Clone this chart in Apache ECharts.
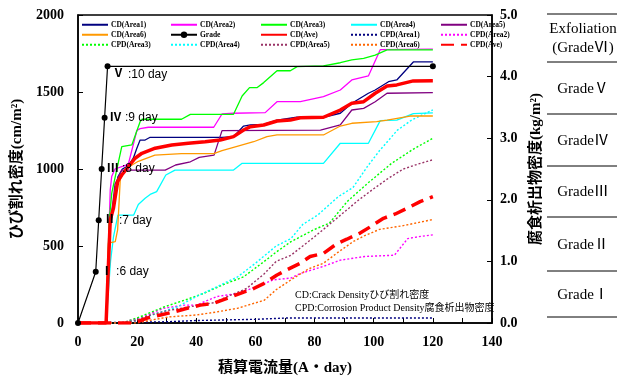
<!DOCTYPE html>
<html><head><meta charset="utf-8">
<script src="https://cdn.jsdelivr.net/npm/echarts@6/dist/echarts.min.js"></script>
<style>html,body{margin:0;padding:0;background:#fff}#c{width:619px;height:383px}</style>
</head><body><div id="c"></div>
<script>
// ---- data (x: 積算電流量 A・day) ----
const cdArea1 = [[0,0],[9.5,0],[11,650],[12,750],[13.5,950],[15,1000],[17,1020],[18.7,1070],[19.9,1135],[21,1188],[22.7,1188],[24.4,1206],[48.7,1206],[52.6,1210],[56,1279],[58.3,1286],[62.8,1290],[67.3,1318],[74,1336],[83,1336],[88.7,1362],[92.6,1427],[98.2,1492],[100.5,1513],[105,1567],[107.8,1578],[113.4,1695],[120,1695]];
const cdArea2 = [[0,0],[9.5,0],[10.9,864],[11.4,951],[12.5,1000],[17,1030],[19.9,1250],[21,1262],[23.8,1271],[45.9,1271],[48.7,1357],[52.6,1362],[63.3,1366],[67.3,1437],[75.2,1437],[83,1470],[88.7,1513],[92.6,1578],[98.2,1604],[102.2,1775],[120,1778]];
const cdArea3 = [[0,0],[9.5,0],[10.5,650],[11.4,842],[12.6,950],[14.8,1145],[18.2,1156],[21,1307],[21.6,1323],[35,1323],[38,1355],[52.6,1355],[55.5,1474],[58,1528],[60.5,1528],[62.8,1561],[67.3,1638],[71.8,1638],[74.1,1665],[83,1669],[88.7,1690],[92.6,1708],[96.6,1719],[100.5,1740],[104.5,1773],[120,1773]];
const cdArea4 = [[0,0],[9.5,0],[11,400],[12,560],[13.5,700],[18.8,700],[20.4,770],[22.7,810],[24.4,835],[26.6,853],[29.7,961],[32.8,993],[52.6,993],[55.5,1037],[83,1037],[88.7,1167],[98.2,1167],[102.2,1314],[107.8,1318],[113.4,1360],[120,1365]];
const cdArea5 = [[0,0],[9.5,0],[11,650],[12.5,900],[14.8,993],[29.5,993],[33,1026],[38,1047],[41,1076],[46,1090],[48.7,1249],[82,1253],[88.7,1286],[92.6,1383],[96.6,1394],[100.5,1437],[104.5,1492],[120,1496]];
const cdArea6 = [[0,0],[9.5,0],[10.3,518],[12.6,528],[13.4,604],[14.3,935],[16,1000],[20.4,1050],[26,1090],[35,1100],[45.9,1100],[48.7,1120],[52.6,1141],[59.4,1177],[63.9,1210],[67.3,1221],[83,1221],[88.7,1279],[92.6,1297],[101,1307],[104.5,1318],[112.3,1344],[120,1344]];
const cdAve = [[0,0],[9.5,0],[10.9,669],[12,747],[13.4,918],[14.8,961],[19.3,1070],[21.6,1102],[26.1,1135],[31.7,1156],[37.3,1167],[43,1177],[48.1,1188],[52.6,1210],[56,1253],[58.3,1275],[62.8,1286],[67.3,1312],[71.8,1318],[75.2,1333],[83,1336],[88.7,1383],[92.6,1427],[96.6,1437],[100.5,1492],[104.5,1539],[107.8,1546],[113.4,1572],[120,1573]];

const cpdArea1 = [[0,0],[30,0.02],[40,0.04],[60,0.06],[70,0.08],[120,0.08]];
const cpdArea2 = [[0,0],[15,0],[18,0.05],[22,0.1],[29,0.24],[36,0.29],[40,0.29],[47,0.43],[54,0.48],[60.5,0.59],[66,0.7],[72,0.73],[75,0.8],[83,0.92],[88.7,1.02],[97,1.08],[107,1.1],[111.5,1.37],[115,1.4],[120,1.43]];
const cpdArea3 = [[0,0],[15,0],[21,0.1],[29,0.26],[36,0.37],[42.5,0.48],[49,0.62],[56,0.75],[63,1.0],[67,1.15],[72,1.32],[76,1.42],[80,1.52],[85,1.62],[91,1.97],[98,2.27],[106,2.59],[113,2.81],[120,3.0]];
const cpdArea4 = [[0,0],[15,0],[20,0.05],[27,0.16],[33.5,0.26],[40,0.43],[47,0.59],[54,0.75],[60,0.97],[67,1.25],[72,1.37],[76,1.6],[81,1.75],[88,2.05],[93,2.2],[98,2.55],[102,2.8],[108,3.13],[113,3.3],[120,3.46]];
const cpdArea5 = [[0,0],[15,0],[20,0.05],[24.5,0.13],[30,0.2],[35,0.24],[41,0.29],[46,0.33],[51.5,0.45],[57,0.56],[63,0.8],[67,1.0],[72,1.1],[76,1.25],[80,1.4],[85,1.6],[90,1.8],[95,2.0],[100,2.18],[105,2.35],[110,2.5],[115,2.58],[120,2.65]];
const cpdArea6 = [[0,0],[20,0],[25,0.05],[31,0.1],[40,0.13],[47,0.18],[54,0.24],[63,0.37],[67,0.54],[72,0.7],[78,0.88],[83,0.97],[88,1.15],[93,1.32],[97,1.42],[102,1.52],[110,1.58],[120,1.68]];
const cpdAve = [[0,0],[18,0],[20,0.02],[23.4,0.08],[27.9,0.13],[32.4,0.18],[36.9,0.24],[41.4,0.29],[45.9,0.32],[50.4,0.4],[54.9,0.48],[59.4,0.56],[62.8,0.64],[67.3,0.78],[71.8,0.89],[75.2,0.97],[78.5,1.08],[83,1.13],[87.6,1.29],[90.9,1.36],[95.4,1.46],[98.8,1.56],[103.3,1.7],[107.3,1.77],[111.2,1.86],[115.7,1.97],[120,2.05]];

const gradeDays = [0, 6, 7, 8, 9, 10, 120];
const gradeLevels = [0, 333, 667, 1000, 1333, 1667, 1667];
const gradeNumerals = ['', 'Ⅰ', 'Ⅱ', 'Ⅲ', 'Ⅳ', 'Ⅴ', ''];

const xTicks = [0, 20, 40, 60, 80, 100, 120, 140];
const leftTicks = [0, 500, 1000, 1500, 2000];
const rightTicks = [0.0, 1.0, 2.0, 3.0, 4.0, 5.0];
const gradeTable = ['Exfoliation\n(GradeⅥ)', 'GradeⅤ', 'GradeⅣ', 'GradeⅢ', 'GradeⅡ', 'GradeⅠ'];
const noteLines = ['CD:Crack Densityひび割れ密度', 'CPD:Corrosion Product Density腐食析出物密度'];

// ---- chart ----
const chart = echarts.init(document.getElementById('c'), null, {renderer: 'canvas'});
const serif = '"Liberation Serif", "Noto Sans CJK JP"';

function cd(name, data, color, width, z) {
  return {type: 'line', name, data, yAxisIndex: 0, symbol: 'none', silent: true, z: z || 3,
    lineStyle: {color, width: width || 1.3}, itemStyle: {color}};
}
function cpd(name, data, color, type, width, z) {
  return {type: 'line', name, data, yAxisIndex: 1, symbol: 'none', silent: true, z: z || 2,
    lineStyle: {color, width: width || 1.4, type: type || [2, 2]}, itemStyle: {color}};
}

const gradeData = gradeDays.map((d, i) => {
  const item = {value: [d, gradeLevels[i]]};
  if (i === 5) item.label = {offset: [0, 8]};
  return item;
});

const series = [
  cpd('CPD(Area1)', cpdArea1, '#000080'),
  cpd('CPD(Area2)', cpdArea2, '#FF00FF'),
  cpd('CPD(Area3)', cpdArea3, '#00FF00'),
  cpd('CPD(Area4)', cpdArea4, '#00FFFF'),
  cpd('CPD(Area5)', cpdArea5, '#993366'),
  cpd('CPD(Area6)', cpdArea6, '#FF6600'),
  cpd('CPD(Ave)', cpdAve, '#FF0000', [13, 7], 3.5, 4),
  cd('CD(Area1)', cdArea1, '#000080'),
  cd('CD(Area2)', cdArea2, '#FF00FF'),
  cd('CD(Area3)', cdArea3, '#00FF00'),
  cd('CD(Area4)', cdArea4, '#00FFFF'),
  cd('CD(Area5)', cdArea5, '#800080'),
  cd('CD(Area6)', cdArea6, '#FF9900'),
  cd('CD(Ave)', cdAve, '#FF0000', 3.5, 6),
  {type: 'line', name: 'Grade', data: gradeData, yAxisIndex: 0, symbol: 'circle', symbolSize: 6, silent: true, z: 8,
    lineStyle: {color: '#000', width: 1.2}, itemStyle: {color: '#000'},
    label: {show: true, position: 'right', distance: 2, color: '#000',
      formatter: p => gradeNumerals[p.dataIndex] ? `{r|${gradeNumerals[p.dataIndex]}}{s| :${gradeDays[p.dataIndex]} day}` : '',
      rich: {r: {fontFamily: serif, fontWeight: 'bold', fontSize: 12, color: '#000'},
             s: {fontFamily: '"Liberation Sans", Arial', fontSize: 12, color: '#000'}}}}
];

const legendCols = [
  ['CD(Area1)', 'CD(Area6)', 'CPD(Area3)'],
  ['CD(Area2)', 'Grade', 'CPD(Area4)'],
  ['CD(Area3)', 'CD(Ave)', 'CPD(Area5)'],
  ['CD(Area4)', 'CPD(Area1)', 'CPD(Area6)'],
  ['CD(Area5)', 'CPD(Area2)', 'CPD(Ave)']
];
const legendX = [81, 170, 260, 350, 440];
const legend = legendCols.map((names, i) => ({
  orient: 'vertical', left: legendX[i], top: 21, padding: 0,
  itemWidth: 26, itemHeight: 8, itemGap: 2.5, selectedMode: false,
  textStyle: {fontSize: 7.5, fontWeight: 'bold', fontFamily: serif, color: '#000', padding: [0, 0, 0, -2]},
  data: names.map(n => n === 'Grade' ? {name: n} : {name: n, itemStyle: {opacity: 0}})
}));

const graphic = [];
const tableY = [14, 62, 114, 166, 217, 271, 317];
tableY.forEach(y => graphic.push({type: 'line', shape: {x1: 547, y1: y, x2: 617, y2: y}, style: {stroke: '#000', lineWidth: 1}, silent: true}));
gradeTable.forEach((t, i) => graphic.push({type: 'text', x: 583, y: (tableY[i] + tableY[i + 1]) / 2 + 1,
  style: {text: t, textAlign: 'center', textVerticalAlign: 'middle', font: '15px ' + serif, fill: '#000', lineHeight: 19}, silent: true}));
noteLines.forEach((t, i) => graphic.push({type: 'text', x: 295, y: 295 + i * 13,
  style: {text: t, textAlign: 'left', textVerticalAlign: 'middle', font: '10px ' + serif, fill: '#000'}, silent: true}));

chart.setOption({
  animation: false,
  backgroundColor: '#fff',
  grid: {left: 78, right: 127, top: 15, bottom: 60, show: true, borderColor: '#000', borderWidth: 1.5, backgroundColor: 'transparent'},
  legend,
  graphic,
  xAxis: {type: 'value', min: xTicks[0], max: xTicks[xTicks.length - 1], interval: 10,
    name: '積算電流量(A・day)', nameLocation: 'middle', nameGap: 38,
    nameTextStyle: {fontSize: 15, fontWeight: 'bold', fontFamily: serif, color: '#000'},
    axisLine: {lineStyle: {color: '#000', width: 1.5}},
    axisTick: {inside: true, length: 5, lineStyle: {color: '#000'}},
    axisLabel: {margin: 12, fontSize: 14, fontWeight: 'bold', fontFamily: serif, color: '#000',
      formatter: v => xTicks.includes(v) ? String(v) : ''},
    splitLine: {show: false}},
  yAxis: [
    {type: 'value', min: leftTicks[0], max: leftTicks[leftTicks.length - 1], interval: 500, position: 'left',
      name: 'ひび割れ密度(cm/m²)', nameLocation: 'middle', nameGap: 42,
      nameTextStyle: {fontSize: 15, fontWeight: 'bold', fontFamily: serif, color: '#000'},
      axisLine: {show: true, lineStyle: {color: '#000', width: 1.5}},
      axisTick: {show: true, inside: true, length: 5, lineStyle: {color: '#000'}},
      axisLabel: {margin: 14, fontSize: 14, fontWeight: 'bold', fontFamily: serif, color: '#000',
        formatter: v => String(v)},
      splitLine: {show: false}},
    {type: 'value', min: rightTicks[0], max: rightTicks[rightTicks.length - 1], interval: 1, position: 'right',
      name: '腐食析出物密度(kg/m²)', nameLocation: 'middle', nameGap: 31,
      nameTextStyle: {fontSize: 15, fontWeight: 'bold', fontFamily: serif, color: '#000'},
      axisLine: {show: true, lineStyle: {color: '#000', width: 1.5}},
      axisTick: {show: true, inside: true, length: 5, lineStyle: {color: '#000'}},
      axisLabel: {margin: 8, fontSize: 14, fontWeight: 'bold', fontFamily: serif, color: '#000',
        formatter: v => v.toFixed(1)},
      splitLine: {show: false}}
  ],
  series
});
</script></body></html>
